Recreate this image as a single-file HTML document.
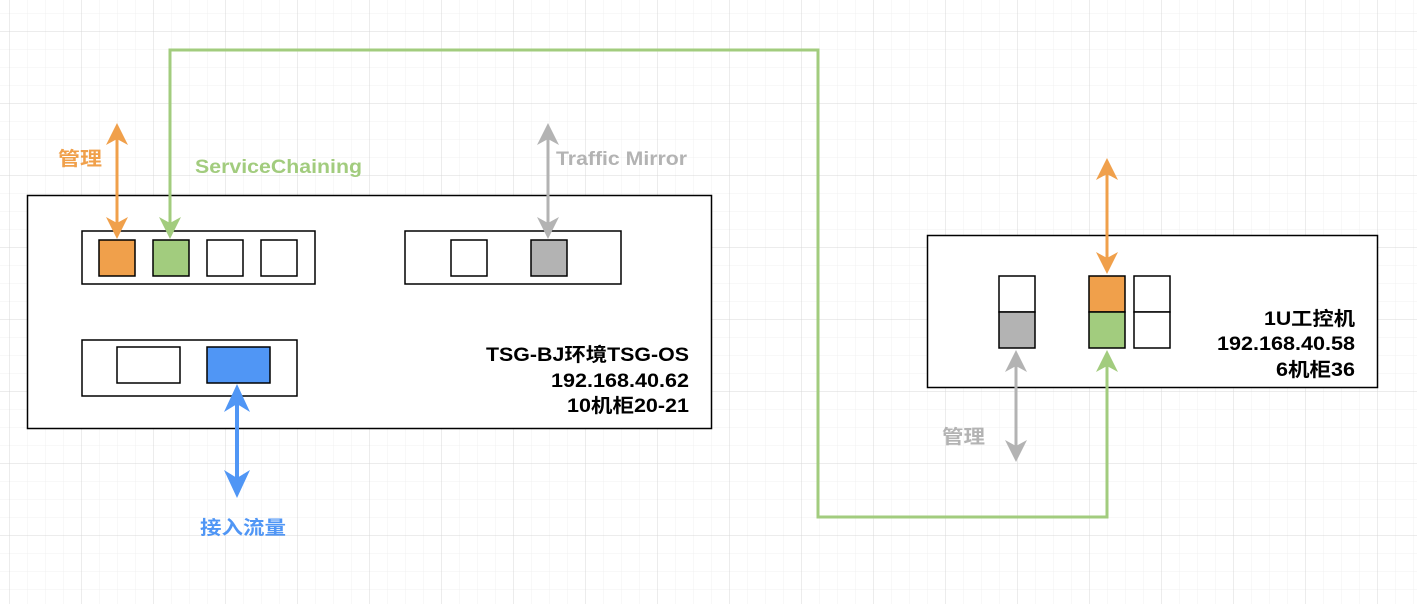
<!DOCTYPE html>
<html><head><meta charset="utf-8"><style>
html,body{margin:0;padding:0;background:#fff;}
svg{display:block;}
text{font-family:"Liberation Sans","Noto Sans CJK SC",sans-serif;font-weight:bold;font-size:19px;}
</style></head><body>
<svg width="1417" height="604" viewBox="0 0 1417 604" xmlns="http://www.w3.org/2000/svg">
<defs>
<pattern id="minor" width="18" height="18" patternUnits="userSpaceOnUse" x="9" y="-4.5">
<path d="M0 0H18M0 0V18" stroke="#f0f0f0" stroke-width="1" fill="none"/>
</pattern>
<pattern id="major" width="72" height="72" patternUnits="userSpaceOnUse" x="9" y="31.5">
<path d="M0 0H72M0 0V72" stroke="#d9d9d9" stroke-width="1" fill="none"/>
</pattern>
</defs>
<rect width="1417" height="604" fill="url(#minor)"/>
<rect width="1417" height="604" fill="url(#major)"/>

<!-- big box -->
<rect x="27.5" y="195.5" width="684" height="233" fill="#fff" stroke="#000" stroke-width="1.5"/>
<rect x="82" y="231" width="233" height="53" fill="#fff" stroke="#000" stroke-width="1.5"/>
<rect x="99" y="240" width="36" height="36" fill="#f0a04b" stroke="#000" stroke-width="1.5"/>
<rect x="153" y="240" width="36" height="36" fill="#a2cc7e" stroke="#000" stroke-width="1.5"/>
<rect x="207" y="240" width="36" height="36" fill="#fff" stroke="#000" stroke-width="1.5"/>
<rect x="261" y="240" width="36" height="36" fill="#fff" stroke="#000" stroke-width="1.5"/>
<rect x="405" y="231" width="216" height="53" fill="#fff" stroke="#000" stroke-width="1.5"/>
<rect x="451" y="240" width="36" height="36" fill="#fff" stroke="#000" stroke-width="1.5"/>
<rect x="531" y="240" width="36" height="36" fill="#b3b3b3" stroke="#000" stroke-width="1.5"/>
<rect x="82" y="340" width="215" height="56" fill="#fff" stroke="#000" stroke-width="1.5"/>
<rect x="117" y="347" width="63" height="36" fill="#fff" stroke="#000" stroke-width="1.5"/>
<rect x="207" y="347" width="63" height="36" fill="#5096f5" stroke="#000" stroke-width="1.5"/>
<text x="486" y="361" textLength="203" lengthAdjust="spacingAndGlyphs">TSG-BJ环境TSG-OS</text>
<text x="551" y="387" textLength="138" lengthAdjust="spacingAndGlyphs">192.168.40.62</text>
<text x="567" y="412" textLength="122" lengthAdjust="spacingAndGlyphs">10机柜20-21</text>

<!-- right box -->
<rect x="927.5" y="235.5" width="450" height="152" fill="#fff" stroke="#000" stroke-width="1.5"/>
<rect x="999" y="276" width="36" height="36" fill="#fff" stroke="#000" stroke-width="1.5"/>
<rect x="999" y="312" width="36" height="36" fill="#b3b3b3" stroke="#000" stroke-width="1.5"/>
<rect x="1089" y="276" width="36" height="36" fill="#f0a04b" stroke="#000" stroke-width="1.5"/>
<rect x="1089" y="312" width="36" height="36" fill="#a2cc7e" stroke="#000" stroke-width="1.5"/>
<rect x="1134" y="276" width="36" height="36" fill="#fff" stroke="#000" stroke-width="1.5"/>
<rect x="1134" y="312" width="36" height="36" fill="#fff" stroke="#000" stroke-width="1.5"/>
<text x="1264" y="325" textLength="91" lengthAdjust="spacingAndGlyphs">1U工控机</text>
<text x="1217" y="350" textLength="138" lengthAdjust="spacingAndGlyphs">192.168.40.58</text>
<text x="1276" y="376" textLength="79" lengthAdjust="spacingAndGlyphs">6机柜36</text>

<!-- green service chaining line -->
<polyline points="170,225 170,50 818,50 818,517 1107,517 1107,365" fill="none" stroke="#a2cc7e" stroke-width="3"/>
<polygon points="170,239 181,217 170,223 159,217" fill="#a2cc7e"/>
<polygon points="1107,350 1118,372 1107,366 1096,372" fill="#a2cc7e"/>
<text x="195" y="173" fill="#a2cc7e" textLength="167" lengthAdjust="spacingAndGlyphs">ServiceChaining</text>

<!-- orange left arrow -->
<line x1="117" y1="135" x2="117" y2="228" stroke="#f0a04b" stroke-width="3"/>
<polygon points="117,123 128,145 117,139 106,145" fill="#f0a04b"/>
<polygon points="117,239 128,217 117,223 106,217" fill="#f0a04b"/>
<text x="58" y="165" fill="#f0a04b" textLength="44" lengthAdjust="spacingAndGlyphs">管理</text>
<!-- gray traffic mirror -->
<line x1="548" y1="135" x2="548" y2="228" stroke="#b3b3b3" stroke-width="3"/>
<polygon points="548,123 559,145 548,139 537,145" fill="#b3b3b3"/>
<polygon points="548,239 559,217 548,223 537,217" fill="#b3b3b3"/>
<text x="556" y="165" fill="#b3b3b3" textLength="131" lengthAdjust="spacingAndGlyphs">Traffic Mirror</text>
<!-- blue -->
<line x1="237" y1="398" x2="237" y2="484" stroke="#5096f5" stroke-width="4"/>
<polygon points="237,384 250,412 237,404 224,412" fill="#5096f5"/>
<polygon points="237,498 250,470 237,478 224,470" fill="#5096f5"/>
<text x="200" y="534" fill="#5096f5" textLength="86" lengthAdjust="spacingAndGlyphs">接入流量</text>
<!-- right orange -->
<line x1="1107" y1="170" x2="1107" y2="262" stroke="#f0a04b" stroke-width="3"/>
<polygon points="1107,158 1118,180 1107,174 1096,180" fill="#f0a04b"/>
<polygon points="1107,274 1118,252 1107,258 1096,252" fill="#f0a04b"/>
<!-- right gray -->
<line x1="1016" y1="362" x2="1016" y2="450" stroke="#b3b3b3" stroke-width="3"/>
<polygon points="1016,350 1027,372 1016,366 1005,372" fill="#b3b3b3"/>
<polygon points="1016,462 1027,440 1016,446 1005,440" fill="#b3b3b3"/>
<text x="942" y="443" fill="#b3b3b3" textLength="43" lengthAdjust="spacingAndGlyphs">管理</text>
</svg>
</body></html>
